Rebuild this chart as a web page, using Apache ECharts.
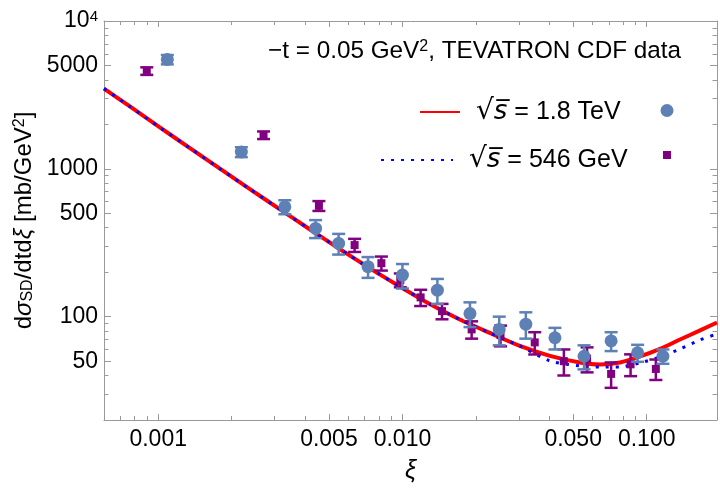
<!DOCTYPE html>
<html><head><meta charset="utf-8">
<script src="https://cdn.jsdelivr.net/npm/echarts@6/dist/echarts.min.js"></script>
<style>html,body{margin:0;padding:0;background:#fff}#c{width:720px;height:491px}</style>
</head><body><div id="c"></div>
<script>
// Theory curves
const xiTheory18 = [0.0006, 0.000763, 0.001012, 0.001344, 0.001783, 0.002366, 0.003141, 0.00417, 0.005534, 0.007345, 0.009747, 0.012938, 0.01717, 0.02279, 0.030247, 0.04015, 0.05329, 0.06436, 0.07772, 0.09387, 0.11337, 0.1369, 0.16535, 0.194];
const sigmaTheory18 = [3493, 2652, 1913, 1388, 1006, 731.5, 534, 390.1, 286.7, 212.7, 160.0, 121.8, 95.7, 77.6, 63.4, 54.3, 49.0, 47.5, 49.0, 53.8, 60.5, 70.1, 80.7, 91.4];
const xiTheory546 = [0.0006, 0.000763, 0.001012, 0.001344, 0.001783, 0.002366, 0.003141, 0.00417, 0.005534, 0.007345, 0.009747, 0.012938, 0.01717, 0.02279, 0.030247, 0.04015, 0.05329, 0.06436, 0.07772, 0.09387, 0.11337, 0.1369, 0.16535, 0.194];
const sigmaTheory546 = [3493, 2652, 1913, 1388, 1006, 731.5, 534, 390.1, 286.7, 212.7, 160.0, 121.8, 95.7, 77.6, 63.4, 50.2, 46.4, 45.7, 45.7, 48.7, 53.4, 60.5, 69.6, 76.4];
// CDF data, sqrt(s) = 1.8 TeV
const xiData18 = [0.00109, 0.00219, 0.0033, 0.00441, 0.00548, 0.00723, 0.0100, 0.0139, 0.0189, 0.0249, 0.0320, 0.0421, 0.0554, 0.0715, 0.0918, 0.1165];
const sigmaData18 = [5490, 1300, 553, 395, 313, 218, 191, 151, 105, 82, 89, 72, 54, 68.5, 57, 54];
const errData18 = [400, 100, 60, 55, 50, 35, 36, 29, 20, 18, 18, 12, 10, 10, 7.5, 6];
// CDF data, sqrt(s) = 546 GeV
const xiData546 = [0.000898, 0.0027, 0.00455, 0.00637, 0.0082, 0.0098, 0.01187, 0.01452, 0.0192, 0.0252, 0.0348, 0.0458, 0.057, 0.0715, 0.0859, 0.109];
const sigmaData546 = [4590, 1690, 562, 305, 230, 177, 135, 109, 82, 75, 67, 50, 52, 41, 47.6, 44.3];
const errData546 = [270, 100, 43, 31, 25, 19, 17, 13, 11, 12, 11.5, 10, 10, 8, 8, 7];
// Ticks
const xMajorTicks = [0.001, 0.005, 0.01, 0.05, 0.1];
const xTickLabels = ['0.001', '0.005', '0.010', '0.050', '0.100'];
const xMinorTicks = [0.0006, 0.0007, 0.0008, 0.0009, 0.002, 0.003, 0.004, 0.006, 0.007, 0.008, 0.009, 0.02, 0.03, 0.04, 0.06, 0.07, 0.08, 0.09];
const yMajorTicks = [50, 100, 500, 1000, 5000, 10000];
const yTickLabels = ['50', '100', '500', '1000', '5000', '10{sup|4}'];
const yMinorTicks = [30, 40, 60, 70, 80, 90, 200, 300, 400, 600, 700, 800, 900, 2000, 3000, 4000, 6000, 7000, 8000, 9000];

const FONT = 'Liberation Sans, Arial, sans-serif';
const FRAME = '#9a9a9a';
const X_MIN = 0.0006, X_MAX = 0.194, Y_MIN = 20, Y_MAX = 10000;

function findLabel(ticks, labels, v) {
  for (let i = 0; i < ticks.length; i++) if (Math.abs(ticks[i] - v) / ticks[i] < 1e-6) return labels[i];
  return '';
}
function xAx(pos, ticks, len, withLine, withLabel) {
  const a = {
    type: 'log', logBase: 10, position: pos, min: X_MIN, max: X_MAX,
    axisLine: {show: withLine, lineStyle: {color: FRAME, width: 1}},
    axisTick: {show: true, inside: true, length: len, customValues: ticks, lineStyle: {color: FRAME, width: 1}},
    axisLabel: {show: false},
    splitLine: {show: false}, minorTick: {show: false}, minorSplitLine: {show: false}
  };
  if (withLabel) {
    a.axisLabel = {show: true, customValues: ticks, margin: 8, fontSize: 23, color: '#000', fontFamily: FONT,
      formatter: v => findLabel(xMajorTicks, xTickLabels, v)};
    a.name = 'ξ'; a.nameLocation = 'middle'; a.nameGap = 39;
    a.nameTextStyle = {fontSize: 25, fontStyle: 'italic', color: '#000', fontFamily: FONT};
  }
  return a;
}
function yAx(pos, ticks, len, withLine, withLabel) {
  const a = {
    type: 'log', logBase: 10, position: pos, min: Y_MIN, max: Y_MAX,
    axisLine: {show: withLine, lineStyle: {color: FRAME, width: 1}},
    axisTick: {show: true, inside: true, length: len, customValues: ticks, lineStyle: {color: FRAME, width: 1}},
    axisLabel: {show: false},
    splitLine: {show: false}, minorTick: {show: false}, minorSplitLine: {show: false}
  };
  if (withLabel) {
    a.axisLabel = {show: true, customValues: ticks, margin: 6, fontSize: 23, color: '#000', fontFamily: FONT,
      formatter: v => findLabel(yMajorTicks, yTickLabels, v),
      rich: {sup: {fontSize: 15, verticalAlign: 'top', color: '#000', fontFamily: FONT, padding: [0, 0, 6, 0]}}};
    a.name = '{t|d}{it|σ}{sub|SD}{t|/dtd}{it|ξ}{t| [mb/GeV}{sup|2}{t|]}';
    a.nameLocation = 'middle'; a.nameGap = 64;
    a.nameTextStyle = {fontSize: 24, color: '#000', fontFamily: FONT,
      rich: {
        t: {fontSize: 24, color: '#000', fontFamily: FONT},
        it: {fontSize: 24, fontStyle: 'italic', color: '#000', fontFamily: FONT},
        sub: {fontSize: 16, color: '#000', fontFamily: FONT, verticalAlign: 'bottom', padding: [8, 0, 0, 0]},
        sup: {fontSize: 16, color: '#000', fontFamily: FONT, verticalAlign: 'top', padding: [0, 0, 8, 0]}
      }};
  }
  return a;
}
function errBar(color, cap, lw) {
  return function (params, api) {
    const x = api.value(0), lo = api.value(1), hi = api.value(2);
    const a = api.coord([x, lo]), b = api.coord([x, hi]);
    const h = cap / 2;
    const st = {stroke: color, lineWidth: lw};
    return {type: 'group', children: [
      {type: 'line', shape: {x1: a[0], y1: a[1], x2: b[0], y2: b[1]}, style: st},
      {type: 'line', shape: {x1: a[0] - h, y1: a[1], x2: a[0] + h, y2: a[1]}, style: st},
      {type: 'line', shape: {x1: b[0] - h, y1: b[1], x2: b[0] + h, y2: b[1]}, style: st}
    ]};
  };
}
const zip = (xs, ys) => xs.map((x, i) => [x, ys[i]]);
const errs = (xs, ys, es) => xs.map((x, i) => [x, ys[i] - es[i], ys[i] + es[i]]);

const BLUE = '#5e81b5', PURPLE = '#800080';
const legText = {
  fontSize: 25, color: '#000', fontFamily: FONT,
  rich: {
    g: {width: 11, fontSize: 25},
    sq: {fontSize: 28, color: '#000', fontFamily: 'DejaVu Sans'},
    s: {fontSize: 26, fontStyle: 'italic', color: '#000', fontFamily: 'DejaVu Sans'},
    t: {fontSize: 25, color: '#000', fontFamily: FONT}
  }
};
const option = {
  animation: false,
  backgroundColor: '#fff',
  grid: {left: 104, right: 3, top: 21, bottom: 71, containLabel: false, outerBoundsMode: 'none'},
  title: {
    text: '−t = 0.05 GeV{sup|2}, TEVATRON CDF data', left: 268, top: 39, padding: 0,
    textStyle: {fontSize: 24.3, fontWeight: 'normal', color: '#000', fontFamily: FONT,
      rich: {sup: {fontSize: 16, verticalAlign: 'top', color: '#000', fontFamily: FONT, padding: [0, 0, 8, 0]}}}
  },
  legend: [
    {data: ['1.8 TeV'], left: 419, top: 98, padding: 0, itemWidth: 40, itemHeight: 14, selectedMode: false,
      itemStyle: {opacity: 0}, formatter: () => '{g|}{sq|√}{s|s\u0305}{t| = 1.8 TeV}', textStyle: legText},
    {data: ['546 GeV'], left: 380, top: 146, padding: 0, itemWidth: 72, itemHeight: 14, selectedMode: false,
      itemStyle: {opacity: 0}, formatter: () => '{g|}{sq|√}{s|s\u0305}{t| = 546 GeV}', textStyle: legText},
    {data: ['1.8 TeV data'], left: 660.5, top: 104, padding: 0, itemWidth: 13, itemHeight: 13, selectedMode: false,
      formatter: () => '', textStyle: {fontSize: 1}},
    {data: ['546 GeV data'], left: 663, top: 151, padding: 0, itemWidth: 8, itemHeight: 8, selectedMode: false,
      formatter: () => '', textStyle: {fontSize: 1}}
  ],
  xAxis: [
    xAx('bottom', xMajorTicks, 6, true, true),
    xAx('bottom', xMinorTicks, 4, false, false),
    xAx('top', xMajorTicks, 6, true, false),
    xAx('top', xMinorTicks, 4, false, false)
  ],
  yAxis: [
    yAx('left', yMajorTicks, 7, true, true),
    yAx('left', yMinorTicks, 4.5, false, false),
    yAx('right', yMajorTicks, 7, true, false),
    yAx('right', yMinorTicks, 4.5, false, false)
  ],
  series: [
    {name: '1.8 TeV', type: 'line', data: zip(xiTheory18, sigmaTheory18), showSymbol: false, symbol: 'none',
      smooth: 0.25, lineStyle: {color: '#ff0000', width: 4}, itemStyle: {color: '#ff0000'}, z: 2},
    {name: '546 GeV', type: 'line', data: zip(xiTheory546, sigmaTheory546), showSymbol: false, symbol: 'none',
      smooth: 0.25, lineStyle: {color: '#0000ff', width: 3, type: [3, 7]}, itemStyle: {color: '#0000ff'}, z: 3},
    {name: '546 GeV err', type: 'custom', renderItem: errBar(PURPLE, 13, 2.5), data: errs(xiData546, sigmaData546, errData546),
      encode: {x: 0, y: [1, 2]}, z: 4},
    {name: '546 GeV data', type: 'scatter', data: zip(xiData546, sigmaData546), symbol: 'rect', symbolSize: 8,
      itemStyle: {color: PURPLE, opacity: 1}, z: 5},
    {name: '1.8 TeV err', type: 'custom', renderItem: errBar(BLUE, 13, 2.5), data: errs(xiData18, sigmaData18, errData18),
      encode: {x: 0, y: [1, 2]}, z: 6},
    {name: '1.8 TeV data', type: 'scatter', data: zip(xiData18, sigmaData18), symbol: 'circle', symbolSize: 13,
      itemStyle: {color: BLUE, opacity: 1}, z: 7}
  ]
};
const chart = echarts.init(document.getElementById('c'), null, {renderer: 'canvas'});
chart.setOption(option);
</script>
</body></html>
